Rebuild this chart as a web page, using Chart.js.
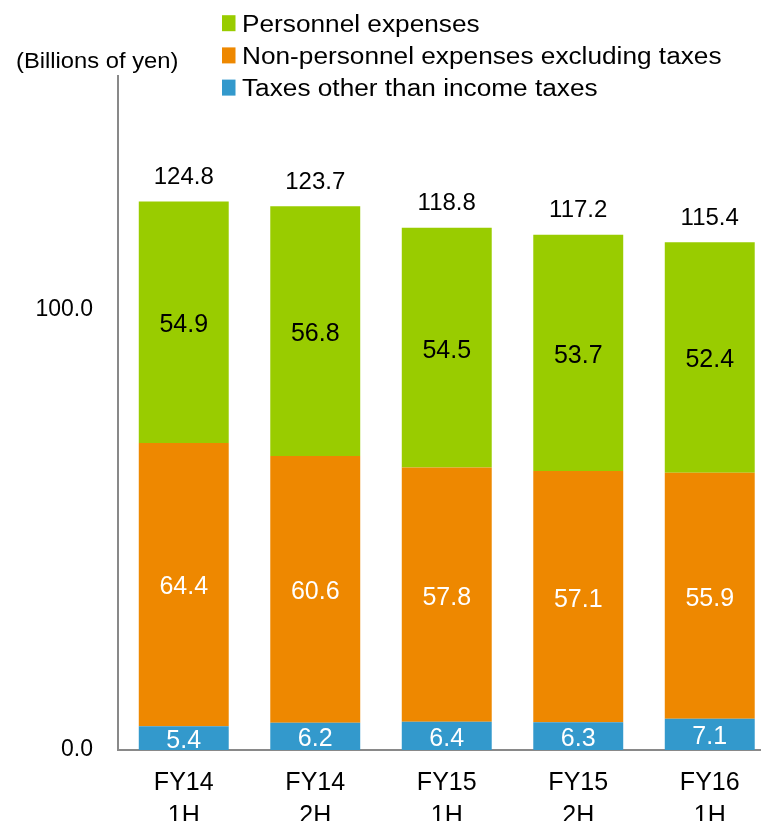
<!DOCTYPE html>
<html>
<head>
<meta charset="utf-8">
<script src="https://cdn.jsdelivr.net/npm/chart.js@4"></script>
<style>
  html, body { margin: 0; padding: 0; background: #fff; overflow: hidden; }
  #wrap { position: absolute; left: 0; top: 0; width: 790px; height: 840px; }
</style>
</head>
<body>
<div id="wrap"><canvas id="costChart"></canvas></div>
<script>
// values (billions of yen)
const categories = [["FY14", "1H"], ["FY14", "2H"], ["FY15", "1H"], ["FY15", "2H"], ["FY16", "1H"]];
const taxes = [5.4, 6.2, 6.4, 6.3, 7.1];
const nonPersonnel = [64.4, 60.6, 57.8, 57.1, 55.9];
const personnel = [54.9, 56.8, 54.5, 53.7, 52.4];
const totals = [124.8, 123.7, 118.8, 117.2, 115.4];
const yTicks = [0, 100];

const FONT = "'Liberation Sans', Arial, sans-serif";
const GREEN = "#99cc00";
const ORANGE = "#ee8800";
const BLUE = "#3399cc";

// legend entries, top to bottom
const legendItems = [
    { text: "Personnel expenses", color: GREEN },
    { text: "Non-personnel expenses excluding taxes", color: ORANGE },
    { text: "Taxes other than income taxes", color: BLUE },
];

// the source slide text is a bit wider than plain Arial
function wideText(ctx, text, x, y, sx) {
    ctx.save();
    ctx.translate(x, y);
    ctx.scale(sx, 1);
    ctx.fillText(text, 0, 0);
    ctx.restore();
}

const labelsPlugin = {
    id: "labels",
    afterDatasetsDraw(chart) {
        const ctx = chart.ctx;
        ctx.save();
        ctx.textAlign = "center";
        ctx.textBaseline = "middle";
        ctx.font = "25px " + FONT;
        chart.data.datasets.forEach((ds, i) => {
            const meta = chart.getDatasetMeta(i);
            meta.data.forEach((bar, j) => {
                ctx.fillStyle = ds.labelColor;
                ctx.fillText(ds.data[j].toFixed(1), bar.x, (bar.y + bar.base) / 2 + 3);
            });
        });
        // totals above each stack
        const top = chart.getDatasetMeta(chart.data.datasets.length - 1);
        ctx.fillStyle = "#000";
        ctx.font = "24px " + FONT;
        top.data.forEach((bar, j) => {
            ctx.fillText(totals[j].toFixed(1), bar.x, bar.y - 24);
        });
        ctx.restore();
    },
    afterDraw(chart) {
        const ctx = chart.ctx;
        ctx.save();
        ctx.textBaseline = "alphabetic";
        ctx.textAlign = "left";
        ctx.fillStyle = "#000";
        ctx.font = "22px " + FONT;
        wideText(ctx, "(Billions of yen)", 16, 68, 1.08);
        ctx.font = "23px " + FONT;
        legendItems.forEach((item, k) => {
            const base = 31.7 + k * 32.2;
            ctx.fillStyle = item.color;
            ctx.fillRect(222, base - 16.5, 13.5, 16);
            ctx.fillStyle = "#000";
            wideText(ctx, item.text, 242, base, 1.14);
        });
        ctx.restore();
    },
};

new Chart(document.getElementById("costChart"), {
    type: "bar",
    data: {
        labels: categories,
        datasets: [
            { label: "Taxes other than income taxes", data: taxes, backgroundColor: BLUE, labelColor: "#fff" },
            { label: "Non-personnel expenses excluding taxes", data: nonPersonnel, backgroundColor: ORANGE, labelColor: "#fff" },
            { label: "Personnel expenses", data: personnel, backgroundColor: GREEN, labelColor: "#000" },
        ],
    },
    options: {
        responsive: true,
        maintainAspectRatio: false,
        animation: false,
        layout: { padding: { left: 0, top: 76, right: 14.5, bottom: 0 } },
        datasets: { bar: { categoryPercentage: 1, barPercentage: 0.684 } },
        plugins: {
            legend: { display: false },
            tooltip: { enabled: false },
        },
        scales: {
            x: {
                stacked: true,
                grid: { display: false, drawTicks: false },
                border: { display: true, color: "#898989", width: 2 },
                ticks: {
                    color: "#000",
                    padding: 17,
                    font: { family: FONT, size: 25, lineHeight: 1.32 },
                    maxRotation: 0,
                },
                afterFit(scale) { scale.height = 90; },
            },
            y: {
                stacked: true,
                min: 0,
                max: 153.2,
                grid: { display: false, drawTicks: false },
                border: { display: true, color: "#898989", width: 2 },
                ticks: {
                    color: "#000",
                    padding: 25,
                    font: { family: FONT, size: 23 },
                    callback: (v) => v.toFixed(1),
                },
                afterBuildTicks(scale) { scale.ticks = yTicks.map((v) => ({ value: v })); },
                afterFit(scale) { scale.width = 118; },
            },
        },
    },
    plugins: [labelsPlugin],
});
</script>
</body>
</html>
